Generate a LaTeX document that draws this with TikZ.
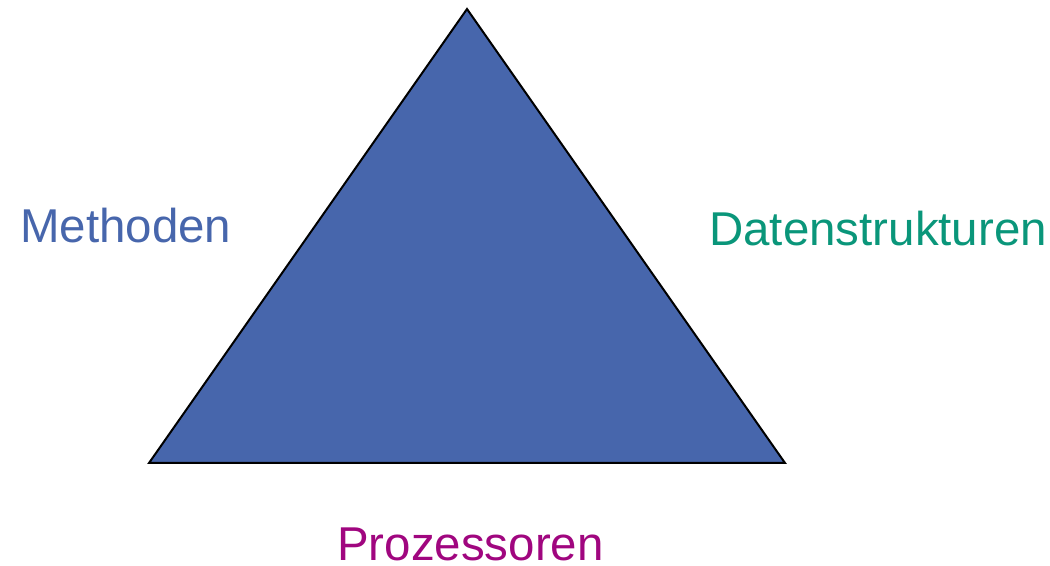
\documentclass[tikz,border=0pt]{standalone}
\usepackage{fontspec}
\setmainfont{Liberation Sans}
\usepackage{xcolor}
\usetikzlibrary{positioning}
\definecolor{methblue}{HTML}{4766AC}
\definecolor{datgreen}{HTML}{0A967A}
\definecolor{prozviolet}{HTML}{A0067F}
\tikzset{lbl/.style={anchor=base west,inner sep=0pt,text depth=0pt,font=\fontsize{35.6}{42}\selectfont}}
\begin{document}
\begin{tikzpicture}[x=0.75pt,y=-0.75pt]

	\useasboundingbox (0,0) rectangle (1050,566);
	\coordinate (top) at (467,9);
	\coordinate (left) at (149,463);
	\coordinate (right) at (785,463);
	\draw[line width=1.5pt,line join=miter,fill=methblue] (top) -- (left) -- (right) -- cycle;

	\node[lbl,text=methblue] (meth) at (20,243) {Methoden};
	\node[lbl,text=datgreen] (dat) at (709,246) {Datenstrukturen};
	\node[lbl,text=prozviolet] (proz) at (337,561) {Prozessoren};
\end{tikzpicture}
\end{document}
